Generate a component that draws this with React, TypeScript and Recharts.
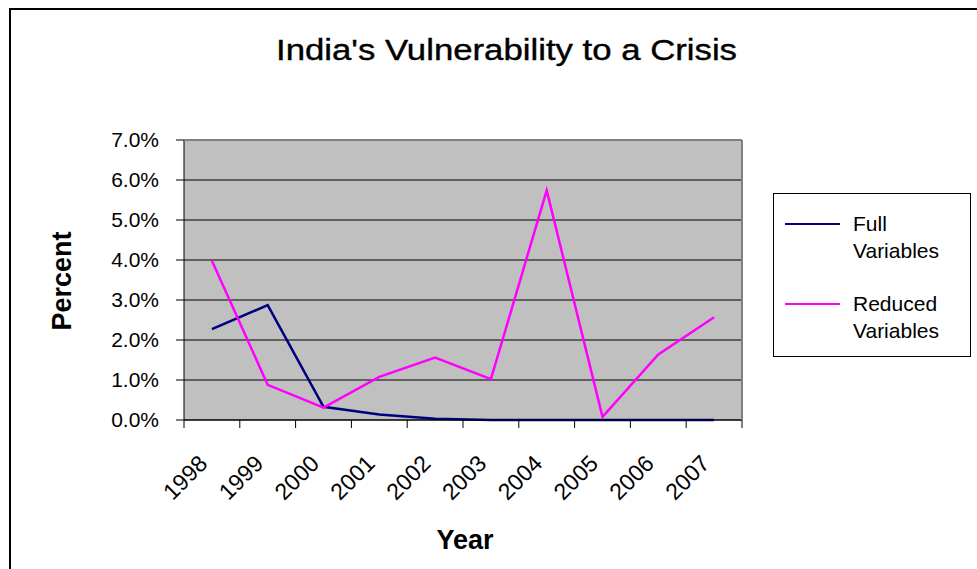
import { LineChart, Line, XAxis, YAxis, CartesianGrid } from 'recharts';

const years = ['1998', '1999', '2000', '2001', '2002', '2003', '2004', '2005', '2006', '2007'];
const fullVariables = [2.27, 2.87, 0.33, 0.14, 0.03, 0, 0, 0, 0, 0];
const reducedVariables = [3.98, 0.88, 0.31, 1.08, 1.56, 1.02, 5.74, 0.08, 1.64, 2.57];
const yTicks = [0, 1, 2, 3, 4, 5, 6, 7];

const data = years.map((year, i) => ({
  year,
  full: fullVariables[i] / 100,
  reduced: reducedVariables[i] / 100,
}));

const FONT = 'Arial, "Liberation Sans", sans-serif';
const PLOT_LEFT = 184;
const PLOT_RIGHT = 742;
const PLOT_TOP = 140;
const PLOT_BOTTOM = 420;
const BAND = (PLOT_RIGHT - PLOT_LEFT) / years.length;

function YearTick(props: any) {
  const { x, y, payload, index } = props;
  const isLast = index === years.length - 1;
  const ax = x - 3;
  const ay = y + 37;
  return (
    <g>
      <line x1={x - BAND / 2} x2={x - BAND / 2} y1={PLOT_BOTTOM} y2={PLOT_BOTTOM + 8} stroke="#000" />
      {isLast && (
        <line x1={x + BAND / 2} x2={x + BAND / 2} y1={PLOT_BOTTOM} y2={PLOT_BOTTOM + 8} stroke="#000" />
      )}
      <text
        x={ax}
        y={ay}
        textAnchor="end"
        fontSize={23}
        fontFamily={FONT}
        fill="#000"
        transform={`rotate(-45, ${ax}, ${ay})`}
      >
        {payload.value}
      </text>
    </g>
  );
}

function LegendBox() {
  const items = [
    { color: '#000080', lines: ['Full', 'Variables'] },
    { color: '#FF00FF', lines: ['Reduced', 'Variables'] },
  ];
  return (
    <div
      style={{
        position: 'absolute',
        left: 773,
        top: 193,
        width: 198,
        height: 164,
        border: '1px solid #000',
        boxSizing: 'border-box',
        background: '#fff',
        fontFamily: FONT,
        fontSize: 21,
        lineHeight: '27px',
        color: '#000',
        paddingTop: 16,
      }}
    >
      {items.map((it) => (
        <div key={it.lines[0]} style={{ display: 'flex', marginBottom: 26 }}>
          <div style={{ width: 55, height: 2, background: it.color, marginLeft: 11, marginTop: 13, marginRight: 13 }} />
          <div>
            {it.lines.map((l) => (
              <div key={l}>{l}</div>
            ))}
          </div>
        </div>
      ))}
    </div>
  );
}

export default function App() {
  return (
    <div
      style={{
        position: 'fixed',
        left: 0,
        top: 0,
        width: 977,
        height: 569,
        background: '#fff',
        overflow: 'hidden',
        fontFamily: FONT,
      }}
    >
      <div
        style={{
          position: 'absolute',
          left: 9,
          top: 8,
          width: 1200,
          height: 800,
          border: '2px solid #000',
        }}
      />
      <svg width={977} height={100} style={{ position: 'absolute', left: 0, top: 0 }}>
        <text
          x={276}
          y={60}
          fontSize={30}
          fontFamily={FONT}
          fill="#000"
          stroke="#000"
          strokeWidth={0.4}
          textLength={461}
          lengthAdjust="spacingAndGlyphs"
        >
          India's Vulnerability to a Crisis
        </text>
      </svg>
      <LineChart
        width={977}
        height={569}
        data={data}
        margin={{ top: PLOT_TOP, right: 977 - PLOT_RIGHT, bottom: 0, left: 0 }}
        style={{ position: 'absolute', left: 0, top: 0 }}
      >
        <CartesianGrid vertical={false} stroke="#000" fill="#C0C0C0" />
        <XAxis
          dataKey="year"
          height={569 - PLOT_BOTTOM}
          padding={{ left: BAND / 2, right: BAND / 2 }}
          axisLine={{ stroke: '#000' }}
          tickLine={false}
          tick={<YearTick />}
          interval={0}
        />
        <YAxis
          width={PLOT_LEFT}
          domain={[0, 0.07]}
          ticks={yTicks.map((t) => t / 100)}
          tickFormatter={(v: number) => `${(v * 100).toFixed(1)}%`}
          axisLine={{ stroke: '#000' }}
          tickLine={{ stroke: '#000' }}
          tickSize={8}
          tickMargin={17}
          tick={{ fontSize: 21, fontFamily: FONT, fill: '#000' }}
        />
        <Line
          dataKey="full"
          name="Full Variables"
          stroke="#000080"
          strokeWidth={2.5}
          dot={false}
          isAnimationActive={false}
        />
        <Line
          dataKey="reduced"
          name="Reduced Variables"
          stroke="#FF00FF"
          strokeWidth={2.5}
          dot={false}
          isAnimationActive={false}
        />
      </LineChart>
      <div
        style={{
          position: 'absolute',
          left: PLOT_LEFT,
          top: PLOT_TOP,
          width: PLOT_RIGHT - PLOT_LEFT + 1,
          height: PLOT_BOTTOM - PLOT_TOP,
          borderTop: '1px solid #808080',
          borderRight: '2px solid #808080',
          boxSizing: 'border-box',
          pointerEvents: 'none',
        }}
      />
      <LegendBox />
      <div
        style={{
          position: 'absolute',
          left: 62,
          top: 281,
          transform: 'translate(-50%, -50%) rotate(-90deg)',
          fontSize: 27,
          fontWeight: 'bold',
          color: '#000',
          whiteSpace: 'nowrap',
        }}
      >
        Percent
      </div>
      <div
        style={{
          position: 'absolute',
          left: 465,
          top: 540,
          transform: 'translate(-50%, -50%)',
          fontSize: 27,
          fontWeight: 'bold',
          color: '#000',
        }}
      >
        Year
      </div>
    </div>
  );
}
